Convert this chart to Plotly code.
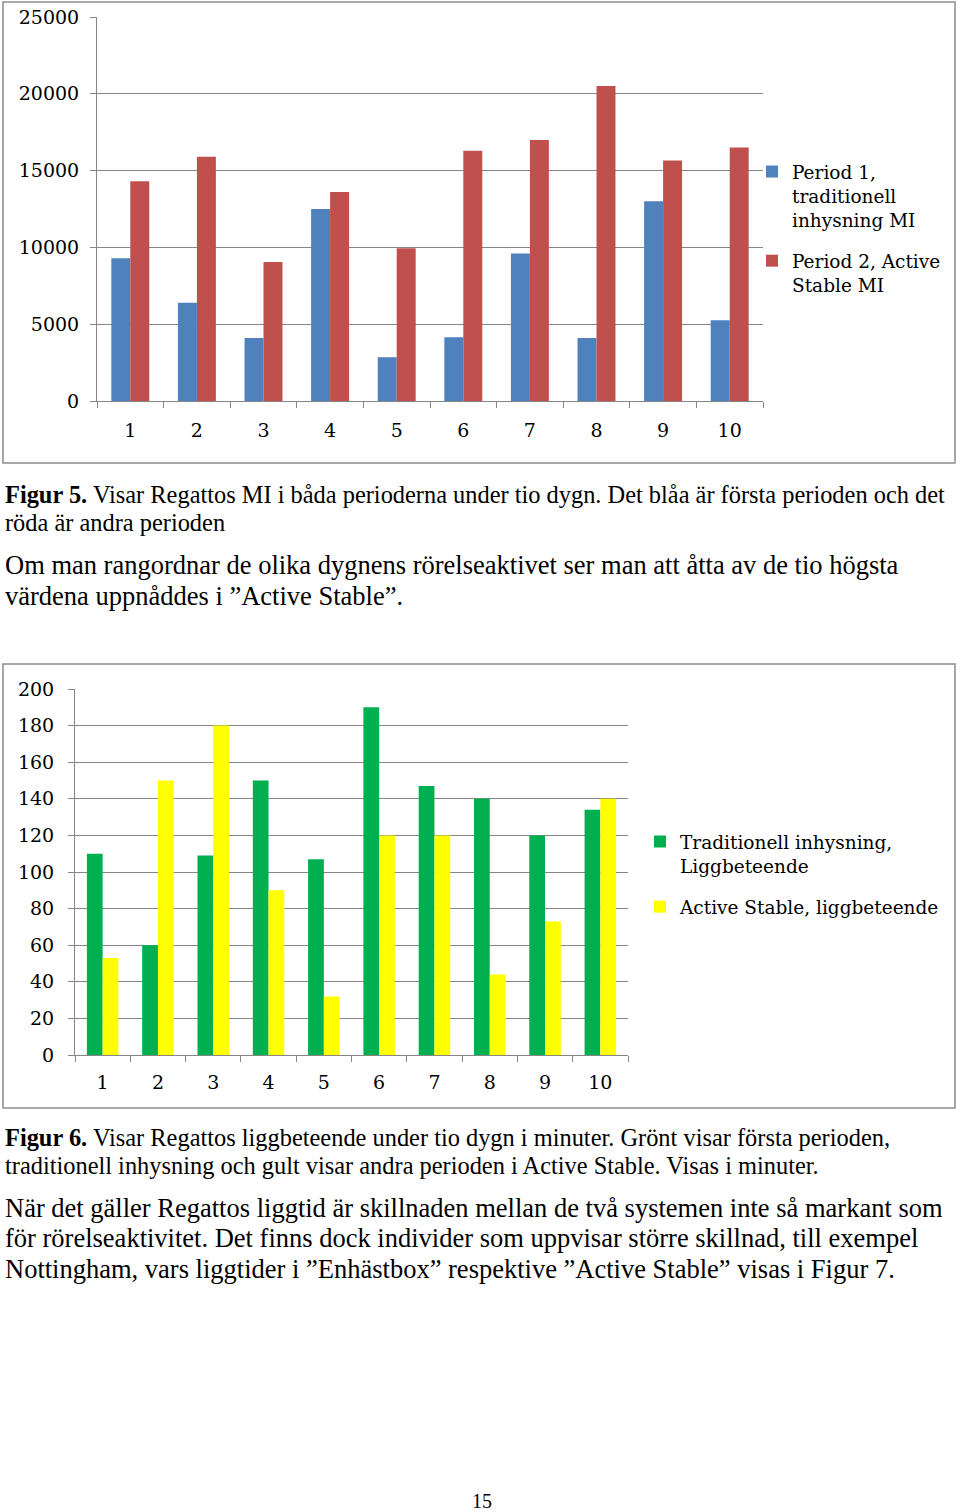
import plotly.graph_objects as go

# Figur 5: rörelseaktivitet (MI) per dygn
days = ["1", "2", "3", "4", "5", "6", "7", "8", "9", "10"]
period1_mi = [9300, 6400, 4100, 12500, 2850, 4150, 9600, 4100, 13000, 5250]
period2_mi = [14300, 15900, 9050, 13600, 9950, 16300, 17000, 20500, 15650, 16500]

# Figur 6: liggbeteende i minuter
trad_ligg = [110, 60, 109, 150, 107, 190, 147, 140, 120, 134]
active_ligg = [53, 150, 180, 90, 32, 120, 120, 44, 73, 140]

W, H = 960, 1512
GRID = "#868686"
CHART_FONT = "DejaVu Serif"
TEXT_FONT = "Liberation Serif"


def px_x(x):
    return x / W


def px_y(y):
    return 1 - y / H


fig = go.Figure()

fig.add_trace(go.Bar(x=days, y=period1_mi, name="Period 1,<br>traditionell<br>inhysning MI",
                     marker=dict(color="#4F81BD", line=dict(width=0)), xaxis="x", yaxis="y",
                     legend="legend", legendgroup="p1"))
fig.add_trace(go.Bar(x=days, y=period2_mi, name="Period 2, Active<br>Stable MI",
                     marker=dict(color="#C0504D", line=dict(width=0)), xaxis="x", yaxis="y",
                     legend="legend", legendgroup="p2"))
fig.add_trace(go.Bar(x=days, y=trad_ligg, name="Traditionell inhysning,<br>Liggbeteende",
                     marker=dict(color="#00B050", line=dict(width=0)), xaxis="x2", yaxis="y2",
                     legend="legend2", legendgroup="t"))
fig.add_trace(go.Bar(x=days, y=active_ligg, name="Active Stable, liggbeteende",
                     marker=dict(color="#FFFF00", line=dict(width=0)), xaxis="x2", yaxis="y2",
                     legend="legend2", legendgroup="a"))

axis_common = dict(
    showline=True, linecolor=GRID, linewidth=1,
    ticks="outside", tickcolor=GRID, ticklen=6,
    tickfont=dict(family=CHART_FONT, size=19, color="#000"),
    fixedrange=True,
)

fig.update_layout(
    width=W, height=H,
    margin=dict(l=0, r=0, t=0, b=0, autoexpand=False),
    paper_bgcolor="white", plot_bgcolor="white",
    barmode="group", bargap=0.43, bargroupgap=0,
    xaxis=dict(domain=[px_x(97), px_x(763)], anchor="y", type="category",
               tickson="boundaries", showgrid=False, ticklabelstandoff=12, **axis_common),
    yaxis=dict(domain=[px_y(401), px_y(17)], anchor="x", range=[0, 25000], dtick=5000,
               tickformat="d", showgrid=True, gridcolor=GRID, gridwidth=1,
               ticklabelstandoff=7, **axis_common),
    xaxis2=dict(domain=[px_x(75), px_x(628)], anchor="y2", type="category",
                tickson="boundaries", showgrid=False, ticklabelstandoff=10, **axis_common),
    yaxis2=dict(domain=[px_y(1055), px_y(689)], anchor="x2", range=[0, 200], dtick=20,
                tickformat="d", showgrid=True, gridcolor=GRID, gridwidth=1,
                ticklabelstandoff=10, **axis_common),
    legend=dict(x=px_x(752), y=px_y(153), xanchor="left", yanchor="top",
                font=dict(family=CHART_FONT, size=18.5, color="#000"),
                valign="top", tracegroupgap=14, itemclick=False, bgcolor="rgba(0,0,0,0)"),
    legend2=dict(x=px_x(640), y=px_y(823), xanchor="left", yanchor="top",
                 font=dict(family=CHART_FONT, size=18.5, color="#000"),
                 valign="top", tracegroupgap=14, itemclick=False, bgcolor="rgba(0,0,0,0)"),
    showlegend=True,
)

# chart frames
for y0, y1 in [(2, 463), (664, 1108)]:
    fig.add_shape(type="rect", xref="paper", yref="paper",
                  x0=px_x(3), x1=px_x(955), y0=px_y(y1), y1=px_y(y0),
                  line=dict(color="#8c8c8c", width=1.5))

# page text, one annotation per line
lines = [
    (494, "<b>Figur 5.</b> Visar Regattos MI i båda perioderna under tio dygn. Det blåa är första perioden och det", 24.4),
    (522, "röda är andra perioden", 24.4),
    (565, "Om man rangordnar de olika dygnens rörelseaktivet ser man att åtta av de tio högsta", 26.5),
    (596, "värdena uppnåddes i ”Active Stable”.", 26.5),
    (1137, "<b>Figur 6.</b> Visar Regattos liggbeteende under tio dygn i minuter. Grönt visar första perioden,", 24.4),
    (1165, "traditionell inhysning och gult visar andra perioden i Active Stable. Visas i minuter.", 24.4),
    (1208, "När det gäller Regattos liggtid är skillnaden mellan de två systemen inte så markant som", 26.5),
    (1238, "för rörelseaktivitet. Det finns dock individer som uppvisar större skillnad, till exempel", 26.5),
    (1269, "Nottingham, vars liggtider i ”Enhästbox” respektive ”Active Stable” visas i Figur 7.", 26.5),
]
for y, txt, size in lines:
    fig.add_annotation(x=px_x(3), y=px_y(y), xref="paper", yref="paper",
                       xanchor="left", yanchor="middle", showarrow=False, text=txt,
                       font=dict(family=TEXT_FONT, size=size, color="#000"))

fig.add_annotation(x=px_x(482), y=px_y(1501), xref="paper", yref="paper",
                   xanchor="center", yanchor="middle", showarrow=False, text="15",
                   font=dict(family=TEXT_FONT, size=20, color="#000"))

fig.write_html("out.html", config={"displayModeBar": False},
               post_script="document.body.style.margin='0';")
